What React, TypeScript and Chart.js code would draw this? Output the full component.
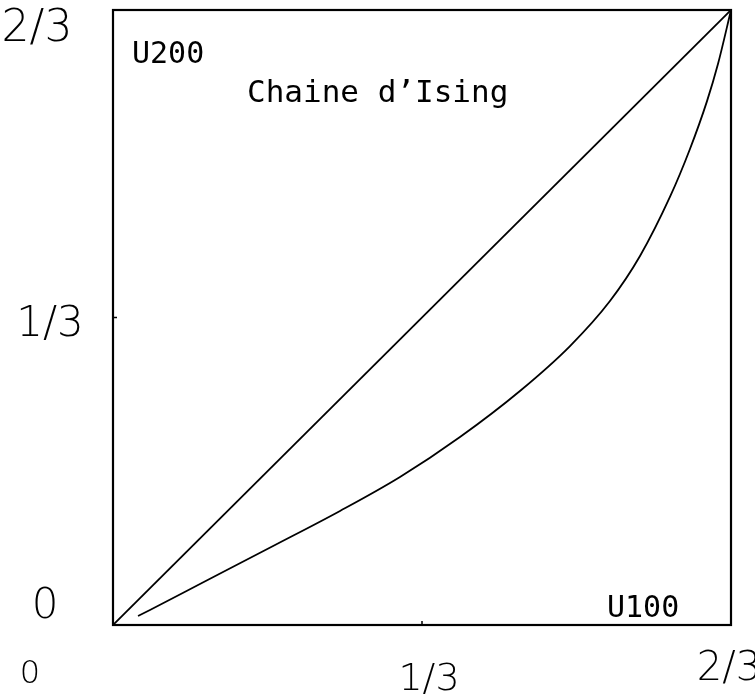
import React, { useEffect, useRef } from "react";
import { Chart, registerables } from "chart.js";

Chart.register(...registerables);

// Data (axis range 0 .. 2/3)
const AXIS_MAX = 2 / 3;
const diagonalX = [0, 2 / 3];
const diagonalY = [0, 2 / 3];
const curveX = [0.027, 0.0399, 0.0938, 0.1748, 0.2449, 0.3096, 0.3743, 0.439, 0.493, 0.5361, 0.5685, 0.6008, 0.6224, 0.6407, 0.6526, 0.6667];
const curveY = [0.0098, 0.0163, 0.0444, 0.0867, 0.1236, 0.1604, 0.2038, 0.2537, 0.3024, 0.3512, 0.4, 0.464, 0.516, 0.5676, 0.6081, 0.6667];
const tickValues = [0, 1 / 3, 2 / 3];
const xTickLabels = ["0", "1/3", "2/3"];
const yTickLabels = ["0", "1/3", "2/3"];
const titleText = "Chaine d\u2019Ising";
const topLeftLabel = "U200";
const bottomRightLabel = "U100";

const toPoints = (xs: number[], ys: number[]) => xs.map((x, i) => ({ x, y: ys[i] }));

const HAND_FAMILY = "'DejaVu Sans ExtraLight', 'DejaVu Sans', sans-serif";

const framePlugin = {
  id: "frame",
  afterDraw(chart: any) {
    const { ctx, chartArea: a, scales } = chart;
    const xs = scales.x;
    const ys = scales.y;
    ctx.save();
    // frame
    ctx.strokeStyle = "#000";
    ctx.lineWidth = 2.2;
    ctx.strokeRect(a.left, a.top, a.right - a.left, a.bottom - a.top);
    // small tick marks at 1/3
    ctx.lineWidth = 1.5;
    const tx = xs.getPixelForValue(tickValues[1]);
    ctx.beginPath();
    ctx.moveTo(tx, a.bottom);
    ctx.lineTo(tx, a.bottom - 4);
    const ty = ys.getPixelForValue(tickValues[1]);
    ctx.moveTo(a.left, ty);
    ctx.lineTo(a.left + 4, ty);
    ctx.stroke();

    // handwritten-like tick labels
    ctx.fillStyle = "#000";
    ctx.textAlign = "center";
    ctx.textBaseline = "middle";
    const xOff = [
      { dx: -83, y: 675, size: 32 },
      { dx: 7, y: 680, size: 38 },
      { dx: -2, y: 670, size: 40 },
    ];
    xTickLabels.forEach((t, i) => {
      const px = xs.getPixelForValue(tickValues[i]);
      ctx.font = `200 ${xOff[i].size}px ${HAND_FAMILY}`;
      ctx.fillText(t, px + xOff[i].dx, xOff[i].y);
    });
    const yOff = [
      { x: 45, dy: -18, size: 42 },
      { x: 50, dy: 8, size: 42 },
      { x: 37, dy: 20, size: 44 },
    ];
    yTickLabels.forEach((t, i) => {
      const py = ys.getPixelForValue(tickValues[i]);
      ctx.font = `200 ${yOff[i].size}px ${HAND_FAMILY}`;
      ctx.fillText(t, yOff[i].x, py + yOff[i].dy);
    });

    // plotter-style annotations
    ctx.textAlign = "left";
    ctx.textBaseline = "alphabetic";
    ctx.font = "30px 'DejaVu Sans Mono', monospace";
    ctx.fillText(topLeftLabel, a.left + 19, a.top + 53);
    ctx.font = "31px 'DejaVu Sans Mono', monospace";
    ctx.fillText(titleText, a.left + 134, a.top + 92);
    ctx.font = "30px 'DejaVu Sans Mono', monospace";
    ctx.fillText(bottomRightLabel, a.left + 494, a.bottom - 8);
    ctx.restore();
  },
};

export default function App() {
  const ref = useRef<HTMLCanvasElement | null>(null);
  useEffect(() => {
    if (!ref.current) return;
    const chart = new Chart(ref.current, {
      type: "scatter",
      data: {
        datasets: [
          {
            data: toPoints(diagonalX, diagonalY),
            showLine: true,
            borderColor: "#000",
            borderWidth: 1.8,
            pointRadius: 0,
          },
          {
            data: toPoints(curveX, curveY),
            showLine: true,
            borderColor: "#000",
            borderWidth: 1.8,
            pointRadius: 0,
            cubicInterpolationMode: "monotone",
          },
        ],
      },
      options: {
        responsive: false,
        animation: false,
        layout: { padding: { left: 113, top: 10, right: 24, bottom: 72 } },
        plugins: { legend: { display: false }, tooltip: { enabled: false }, title: { display: false } },
        scales: {
          x: { type: "linear", min: 0, max: AXIS_MAX, display: false },
          y: { type: "linear", min: 0, max: AXIS_MAX, display: false },
        },
      },
      plugins: [framePlugin],
    });
    return () => chart.destroy();
  }, []);
  return (
    <div style={{ position: "fixed", left: 0, top: 0, width: 755, height: 697, background: "#fff" }}>
      <canvas ref={ref} width={755} height={697} />
    </div>
  );
}
